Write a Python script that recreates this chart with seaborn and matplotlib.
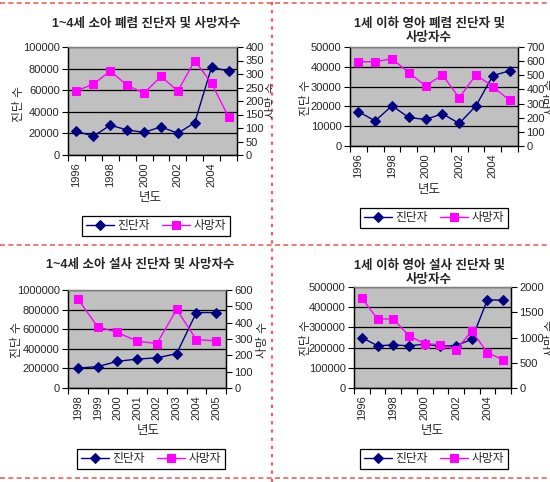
import numpy as np
import seaborn as sns
import matplotlib
matplotlib.use("Agg")
import matplotlib.pyplot as plt
from matplotlib.lines import Line2D
from matplotlib.transforms import Bbox, TransformedBbox

sns.set_theme(style="white")
plt.rcParams['font.family'] = ['Liberation Sans', 'Noto Sans CJK KR', 'DejaVu Sans']

# ---- data ----
years_a = ['1996', '1997', '1998', '1999', '2000', '2001', '2002', '2003', '2004', '2005']
years_b = ['1998', '1999', '2000', '2001', '2002', '2003', '2004', '2005']

pneu_child_diag = [22000, 17400, 27600, 23200, 21000, 26000, 20100, 30000, 81500, 77500]
pneu_child_death = [238, 262, 311, 258, 229, 291, 237, 350, 265, 141]

pneu_infant_diag = [17300, 12700, 20300, 14400, 13400, 16300, 11400, 20300, 35500, 38000]
pneu_infant_death = [596, 596, 617, 519, 425, 503, 341, 503, 420, 323]

diar_child_diag = [203000, 218000, 272000, 295000, 308000, 350000, 770000, 770000]
diar_child_death = [545, 375, 340, 287, 272, 481, 296, 289]

diar_infant_diag = [250000, 209000, 213000, 209000, 217000, 207000, 210000, 241000, 437000, 434000]
diar_infant_death = [1776, 1367, 1367, 1034, 878, 857, 755, 1129, 701, 558]

titles = ['1~4세 소아 폐렴 진단자 및 사망자수',
          '1세 이하 영아 폐렴 진단자 및\n사망자수',
          '1~4세 소아 설사 진단자 및 사망자수',
          '1세 이하 영아 설사 진단자 및\n사망자수']

W, H = 550, 482
NAVY = '#000080'
MAGENTA = '#ff00ff'
PLOT_BG = '#c0c0c0'

fig = plt.figure(figsize=(W / 100, H / 100), dpi=100)
fig.patch.set_facecolor('white')


def fx(x):
    return x / W


def fy(y):
    return 1 - y / H


def draw_panel(box, years, diag, death, lmax, lstep, rmax, rstep, label_every,
               title, title_xy, ylab_xy, rlab_xy, xlab_xy, leg_xy, clip_right=None):
    x0, y0, x1, y1 = box
    ax = fig.add_axes([fx(x0), fy(y1), (x1 - x0) / W, (y1 - y0) / H])
    ax.set_facecolor(PLOT_BG)
    idx = np.arange(len(years))

    sns.lineplot(x=idx, y=diag, ax=ax, color=NAVY, lw=1, marker='D',
                 markersize=5, markeredgecolor=NAVY, legend=False)
    ax2 = ax.twinx()
    sns.lineplot(x=idx, y=death, ax=ax2, color=MAGENTA, lw=1, marker='s',
                 markersize=5.5, markeredgecolor=MAGENTA, legend=False)

    ax.set_xlim(-0.5, len(years) - 0.5)
    ax.set_ylim(0, lmax)
    ax2.set_ylim(0, rmax)
    ax.set_yticks(np.arange(0, lmax + 1, lstep))
    ax2.set_yticks(np.arange(0, rmax + 1, rstep))
    ax.set_yticklabels([str(int(v)) for v in np.arange(0, lmax + 1, lstep)])
    ax2.set_yticklabels([str(int(v)) for v in np.arange(0, rmax + 1, rstep)])

    # ticks at category borders, labels at category centres
    ax.set_xticks(np.arange(-0.5, len(years), 1.0))
    ax.set_xticklabels([])
    lab_pos = idx[::label_every]
    ax.set_xticks(lab_pos, minor=True)
    ax.set_xticklabels([years[i] for i in lab_pos], minor=True, rotation=90,
                       fontsize=8)
    ax.tick_params(axis='x', which='major', direction='out', length=4,
                   width=0.8, color='black', bottom=True)
    ax.tick_params(axis='x', which='minor', length=0, pad=5)
    ax.tick_params(axis='y', direction='out', length=4, width=0.8,
                   color='black', left=True, labelsize=8, pad=2)
    ax2.tick_params(axis='y', direction='out', length=4, width=0.8,
                    color='black', right=True, labelsize=8, pad=2)

    ax.yaxis.grid(True, color='black', lw=0.9)
    ax.set_axisbelow(True)
    ax.set_xlabel('')
    ax.set_ylabel('')
    ax2.set_ylabel('')
    for a in (ax, ax2):
        a.spines['left'].set_color('black')
        a.spines['bottom'].set_color('black')
        a.spines['right'].set_color('black')
        a.spines['top'].set_color('#808080')
        for s in a.spines.values():
            s.set_linewidth(0.9)

    fig.text(fx(title_xy[0]), fy(title_xy[1]), title, ha='center', va='center',
             fontsize=9, fontweight='bold', linespacing=1.15)
    fig.text(fx(ylab_xy[0]), fy(ylab_xy[1]), '진단 수', rotation=90,
             ha='center', va='center', fontsize=8.5)
    rl = fig.text(fx(rlab_xy[0]), fy(rlab_xy[1]), '사망 수', rotation=90,
                  ha='left', va='center', fontsize=8.5)
    if clip_right is not None:
        rl.set_clip_box(TransformedBbox(Bbox.from_extents(0, 0, fx(clip_right), 1),
                                        fig.transFigure))
        rl.set_clip_on(True)
    fig.text(fx(xlab_xy[0]), fy(xlab_xy[1]), '년도', ha='center', va='center',
             fontsize=9)

    handles = [ax.lines[0], ax2.lines[0]]
    leg = fig.legend(handles, ['진단자', '사망자'], loc='center',
                     bbox_to_anchor=(fx(leg_xy[0]), fy(leg_xy[1])), ncol=2,
                     fontsize=8.5, frameon=True, fancybox=False, framealpha=1,
                     edgecolor='black', borderpad=0.3, handlelength=2.4,
                     handletextpad=0.3, columnspacing=1.0)
    leg.get_frame().set_linewidth(0.9)
    return ax, ax2


draw_panel((68, 47, 237, 155), years_a, pneu_child_diag, pneu_child_death,
           100000, 20000, 400, 50, 2, titles[0], (146, 24), (19, 104), (266, 100),
           (150, 198), (156, 226), clip_right=272)
draw_panel((350, 47, 518, 146), years_a, pneu_infant_diag, pneu_infant_death,
           50000, 10000, 700, 100, 2, titles[1], (429, 31), (306, 98), (545, 97),
           (429, 190), (434, 218))
draw_panel((68, 290, 226, 388), years_b, diar_child_diag, diar_child_death,
           1000000, 200000, 600, 100, 1, titles[2], (140, 265), (17, 340), (257, 340),
           (148, 431), (151, 459))
draw_panel((354, 287, 511, 388), years_a, diar_infant_diag, diar_infant_death,
           500000, 100000, 2000, 500, 2, titles[3], (429, 273), (306, 338), (545, 338),
           (432, 431), (434, 459))

# red dotted page breaks
red = '#f06060'
fig.add_artist(Line2D([fx(272), fx(272)], [0, 1], transform=fig.transFigure,
                      color=red, lw=1.6, dashes=(1.5, 2.2)))
for yy in (3, 245, 478):
    fig.add_artist(Line2D([0, 1], [fy(yy), fy(yy)], transform=fig.transFigure,
                          color=red, lw=1.2, dashes=(3, 2)))

fig.savefig('out.png', dpi=100)
